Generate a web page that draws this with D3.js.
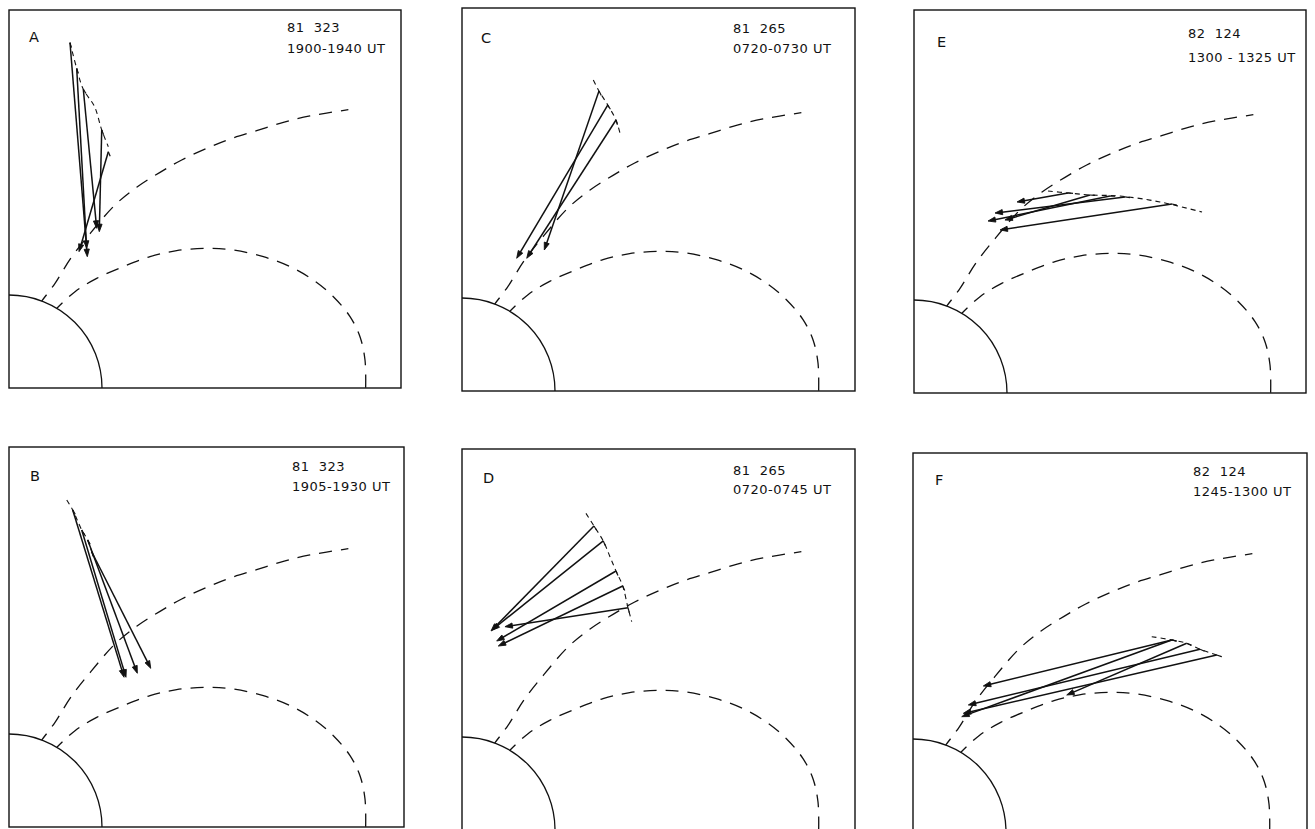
<!DOCTYPE html>
<html><head><meta charset="utf-8">
<script src="https://cdn.jsdelivr.net/npm/d3@7"></script>
<style>
html,body{margin:0;padding:0;background:#fff;}
svg{display:block;}
text{font-family:"DejaVu Sans",sans-serif;fill:#111;white-space:pre;}
</style></head><body>
<svg id="chart" width="1315" height="829"></svg>
<script>
// ---------- DATA (units: Earth radii, x to the right, y up, origin = Earth centre) ----------
const panelIds   = ["A", "B", "C", "D", "E", "F"];
const panelDates = ["81  323", "81  323", "81  265", "81  265", "82  124", "82  124"];
const panelTimes = ["1900-1940 UT", "1905-1930 UT", "0720-0730 UT", "0720-0745 UT", "1300 - 1325 UT", "1245-1300 UT"];

// model field lines
const innerFieldLine = [[0.515,0.857],[0.710,1.036],[0.943,1.179],[1.229,1.305],[1.516,1.412],[1.803,1.477],
  [2.125,1.502],[2.412,1.484],[2.735,1.412],[3.022,1.305],[3.272,1.161],[3.488,0.982],[3.667,0.767],
  [3.774,0.552],[3.828,0.301],[3.835,0.0]];
const outerFieldLine = [[0.351,0.935],[0.495,1.125],[0.663,1.394],[0.880,1.670],[1.140,1.968],[1.373,2.158],
  [1.624,2.319],[1.857,2.452],[2.125,2.577],[2.376,2.677],[2.663,2.767],[2.950,2.857],[3.237,2.925],[3.649,2.993]];

// spacecraft trajectory segments
const orbitA = [[0.656,3.713],[0.728,3.437],[0.799,3.212],[0.920,3.025],[0.997,2.774],[1.068,2.595]];
const orbitB = [[0.621,3.516],[0.685,3.409],[0.782,3.194],[0.846,3.086],[0.889,2.960]];
const orbitC = [[1.412,3.344],[1.473,3.226],[1.567,3.075],[1.656,2.914],[1.699,2.771]];
const orbitD = [[1.333,3.405],[1.419,3.269],[1.519,3.108],[1.591,2.939],[1.656,2.785],[1.728,2.624],[1.785,2.390],[1.825,2.240]];
const orbitE = [[1.441,2.172],[1.656,2.151],[1.892,2.129],[2.215,2.118],[2.645,2.054],[3.097,1.946]];
const orbitF = [[2.567,2.100],[2.782,2.065],[2.943,2.029],[3.086,1.965],[3.266,1.903],[3.319,1.885]];

// arrows: [tailX, tailY, headX, headY]
const arrowsA = [[0.656,3.713,0.842,1.412],[0.728,3.437,0.835,1.502],[0.799,3.212,0.943,1.717],
                 [0.997,2.774,0.971,1.681],[1.068,2.541,0.753,1.466]];
const arrowsB = [[0.685,3.409,1.237,1.610],[0.782,3.194,1.258,1.610],[0.846,3.086,1.380,1.653],[0.889,2.960,1.524,1.706]];
const arrowsC = [[1.473,3.226,0.885,1.516],[1.567,3.075,0.588,1.427],[1.656,2.914,0.696,1.427]];
const arrowsD = [[1.419,3.269,0.312,2.140],[1.519,3.108,0.323,2.151],[1.656,2.785,0.373,2.032],
                 [1.728,2.624,0.390,1.978],[1.785,2.390,0.462,2.186]];
const arrowsE = [[2.774,2.032,0.925,1.753],[2.269,2.108,0.871,1.935],[2.108,2.118,0.796,1.849],
                 [1.656,2.151,1.108,2.054],[1.892,2.129,0.978,1.860]];
const arrowsF = [[2.782,2.065,0.756,1.570],[2.782,2.065,0.524,1.240],[2.943,2.029,1.653,1.473],
                 [3.086,1.965,0.595,1.366],[3.266,1.903,0.541,1.276]];

// ---------- LAYOUT ----------
const RE_PX = 93;
const layout = [
  {id:"A", x0:9,   y0:10,  x1:401,  y1:388, lx:29,  ly:42,  tx:287,  t1y:32,  t2y:53},
  {id:"C", x0:462, y0:8,   x1:855,  y1:391, lx:481, ly:43,  tx:733,  t1y:33,  t2y:53},
  {id:"E", x0:914, y0:10,  x1:1306, y1:393, lx:937, ly:47,  tx:1188, t1y:38,  t2y:62},
  {id:"B", x0:9,   y0:447, x1:404,  y1:827, lx:30,  ly:481, tx:292,  t1y:471, t2y:491},
  {id:"D", x0:462, y0:449, x1:855,  y1:830, lx:483, ly:483, tx:733,  t1y:475, t2y:494},
  {id:"F", x0:913, y0:453, x1:1307, y1:832, lx:935, ly:485, tx:1193, t1y:476, t2y:496}
];
const orbits = {A:orbitA, B:orbitB, C:orbitC, D:orbitD, E:orbitE, F:orbitF};
const arrows = {A:arrowsA, B:arrowsB, C:arrowsC, D:arrowsD, E:arrowsE, F:arrowsF};
const INK = "#111";

const svg = d3.select("#chart");
const defs = svg.append("defs");

layout.forEach(p => {
  const i = panelIds.indexOf(p.id);
  const x = d3.scaleLinear().domain([0, (p.x1 - p.x0) / RE_PX]).range([p.x0, p.x1]);
  const y = d3.scaleLinear().domain([0, (p.y1 - p.y0) / RE_PX]).range([p.y1, p.y0]);
  defs.append("clipPath").attr("id", "clip" + p.id)
    .append("rect").attr("x", p.x0).attr("y", p.y0).attr("width", p.x1 - p.x0).attr("height", p.y1 - p.y0);
  const g = svg.append("g");
  const c = g.append("g").attr("clip-path", `url(#clip${p.id})`);

  // Earth
  const r = x(1) - x(0);
  c.append("path").attr("d", `M${x(1)},${y(0)} A${r},${r} 0 0 0 ${x(0)},${y(1)}`)
    .attr("fill", "none").attr("stroke", INK).attr("stroke-width", 1.3);

  const line = d3.line().x(d => x(d[0])).y(d => y(d[1])).curve(d3.curveCatmullRom.alpha(0.5));

  // field lines
  [innerFieldLine, outerFieldLine].forEach(fl => {
    c.append("path").attr("d", line(fl)).attr("fill", "none").attr("stroke", INK)
      .attr("stroke-width", 1.3).attr("stroke-dasharray", "13,9").attr("stroke-dashoffset", 5);
  });

  // trajectory
  const orb = orbits[p.id];
  c.append("path").attr("d", line(orb)).attr("fill", "none").attr("stroke", INK)
    .attr("stroke-width", 1.1).attr("stroke-dasharray", "5,4");

  function orbitDir(px, py) {
    let best = 0, bd = Infinity;
    for (let k = 0; k < orb.length - 1; k++) {
      const mx = (x(orb[k][0]) + x(orb[k+1][0])) / 2, my = (y(orb[k][1]) + y(orb[k+1][1])) / 2;
      const d = Math.hypot(mx - px, my - py);
      if (d < bd) { bd = d; best = k; }
    }
    const dx = x(orb[best+1][0]) - x(orb[best][0]), dy = y(orb[best+1][1]) - y(orb[best][1]);
    const L = Math.hypot(dx, dy);
    return [dx / L, dy / L];
  }

  // arrows
  arrows[p.id].forEach(a => {
    const tx = x(a[0]), ty = y(a[1]), hx = x(a[2]), hy = y(a[3]);
    const dx = hx - tx, dy = hy - ty, L = Math.hypot(dx, dy), ux = dx / L, uy = dy / L;
    c.append("line").attr("x1", tx).attr("y1", ty).attr("x2", hx - ux * 3).attr("y2", hy - uy * 3)
      .attr("stroke", INK).attr("stroke-width", 1.5);
    const al = 7.5, aw = 2.6;
    const bx = hx - ux * al, by = hy - uy * al;
    c.append("path")
      .attr("d", `M${hx},${hy} L${bx - uy * aw},${by + ux * aw} L${bx + uy * aw},${by - ux * aw} Z`)
      .attr("fill", INK).attr("stroke", INK).attr("stroke-width", 0.9).attr("stroke-linejoin", "round");
    const od = orbitDir(tx, ty);
    c.append("line").attr("x1", tx).attr("y1", ty).attr("x2", tx + od[0] * 5).attr("y2", ty + od[1] * 5)
      .attr("stroke", INK).attr("stroke-width", 1.2);
  });

  // frame
  g.append("rect").attr("x", p.x0).attr("y", p.y0).attr("width", p.x1 - p.x0).attr("height", p.y1 - p.y0)
    .attr("fill", "none").attr("stroke", INK).attr("stroke-width", 1.4);

  // labels
  g.append("text").attr("x", p.lx).attr("y", p.ly).attr("font-size", 14.5).text(panelIds[i]);
  g.append("text").attr("x", p.tx).attr("y", p.t1y).attr("font-size", 13).attr("letter-spacing", 0.5).text(panelDates[i]);
  g.append("text").attr("x", p.tx).attr("y", p.t2y).attr("font-size", 13).attr("letter-spacing", 0.5).text(panelTimes[i]);
});
</script>
</body></html>
